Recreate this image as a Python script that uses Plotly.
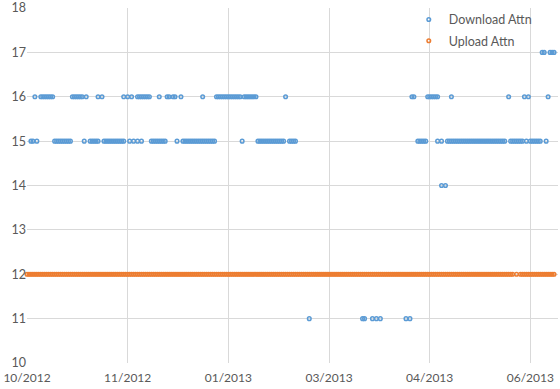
import datetime as dt
import plotly.graph_objects as go

# ---- data (day offsets from the first sample date) ----
base_date = dt.date(2012, 10, 1)

dl_17_days = [261, 262, 265, 266, 267]
dl_16_days = [4, 7, 8, 9, 10, 11, 12, 13, 23, 24, 25, 26, 27, 28, 30, 36, 38,
              49, 51, 53, 56, 57, 58, 59, 60, 61, 62, 67, 71, 72, 74, 75, 78, 89,
              96, 97, 98, 99, 100, 101, 102, 103, 104, 105, 106, 107, 108,
              110, 111, 112, 113, 114, 115, 116, 131, 195, 196,
              203, 204, 205, 206, 207, 208, 215, 244, 252, 254, 264]
dl_15_days = [2, 3, 5, 14, 15, 16, 17, 18, 19, 20, 21, 22, 29, 32, 33, 34, 35, 36,
              39, 40, 41, 42, 43, 44, 45, 46, 47, 48, 49, 52, 54, 56, 58,
              63, 64, 65, 66, 67, 68, 69, 70, 76,
              79, 80, 81, 82, 83, 84, 85, 86, 87, 88, 89, 90, 91, 92, 93, 94, 95,
              109, 117, 118, 119, 120, 121, 122, 123, 124, 125, 126, 127, 128, 129, 130,
              133, 134, 135, 136, 198, 199, 200, 201, 202, 208, 210,
              213, 214, 215, 216, 217, 218, 219, 220, 221, 222, 223, 224, 225, 226, 227,
              228, 229, 230, 231, 232, 233, 234, 235, 236, 237, 238, 239, 240, 241, 242,
              245, 246, 247, 248, 249, 250, 251, 253, 255, 256, 257, 258, 259, 260, 263]
dl_14_days = [210, 212]
dl_11_days = [143, 170, 171, 175, 177, 179, 192, 194]

upload_days = [d for d in range(0, 268) if d not in (247, 249)]
upload_level = 12

tick_step_days = 51
n_ticks = 6

# ---- build series ----
def to_date(d):
    return base_date + dt.timedelta(days=d)

dl_x, dl_y = [], []
for level, days in ((17, dl_17_days), (16, dl_16_days), (15, dl_15_days),
                    (14, dl_14_days), (11, dl_11_days)):
    for d in days:
        dl_x.append(to_date(d))
        dl_y.append(level)

up_x = [to_date(d) for d in upload_days]
up_y = [upload_level] * len(up_x)

tick_dates = [to_date(k * tick_step_days) for k in range(n_ticks)]
tick_text = [t.strftime("%m/%Y") for t in tick_dates]

FONT = "Lato"
GREY = "#595959"

fig = go.Figure()
fig.add_trace(go.Scatter(
    x=dl_x, y=dl_y, mode="markers", name="Download Attn",
    legendgroup="a", cliponaxis=False,
    marker=dict(symbol="circle-open", size=3.6, color="#5B9BD5",
                line=dict(width=1.5, color="#5B9BD5")),
))
fig.add_trace(go.Scatter(
    x=up_x, y=up_y, mode="markers", name="Upload Attn",
    legendgroup="b", cliponaxis=False,
    marker=dict(symbol="circle-open", size=3.6, color="#ED7D31",
                line=dict(width=1.5, color="#ED7D31")),
))

fig.update_layout(
    width=560, height=389,
    margin=dict(l=27, r=2, t=8, b=26, autoexpand=False),
    paper_bgcolor="white", plot_bgcolor="white",
    font=dict(family=FONT, size=12.5, color=GREY),
    showlegend=True,
    legend=dict(x=0.719, y=1.009, xanchor="left", yanchor="top",
                bgcolor="rgba(0,0,0,0)", traceorder="grouped",
                tracegroupgap=2, font=dict(family=FONT, size=12.5, color=GREY)),
    xaxis=dict(
        type="date", automargin=False, ticklabeloverflow="allow",
        range=[to_date(0), base_date + dt.timedelta(days=269.5)],
        tickvals=tick_dates, ticktext=tick_text, ticklabelstandoff=6,
        showgrid=True, gridcolor="#D9D9D9", gridwidth=1,
        zeroline=False, showline=False, ticks="",
        tickfont=dict(family=FONT, size=12, color=GREY),
    ),
    yaxis=dict(
        automargin=False, ticklabeloverflow="allow",
        range=[10, 18], dtick=1, tick0=10,
        showgrid=True, gridcolor="#D9D9D9", gridwidth=1,
        zeroline=False, showline=False, ticks="",
        tickfont=dict(family=FONT, size=12.5, color=GREY),
    ),
)

fig.write_html("out.html",
               config={"displayModeBar": False},
               post_script="document.body.style.margin='0';"
                           "document.body.style.overflow='hidden';")
